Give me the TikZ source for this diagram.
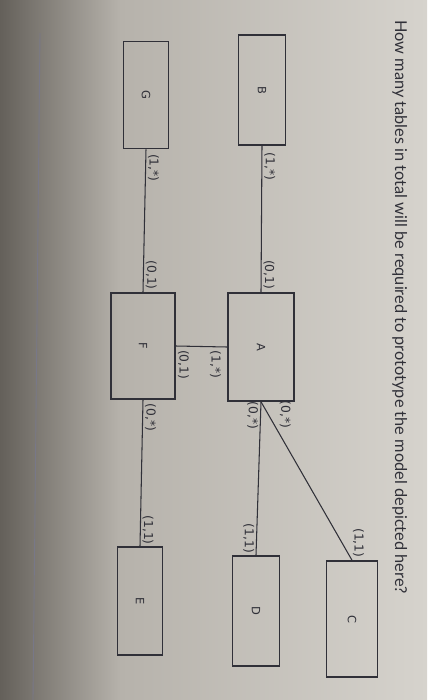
\documentclass[tikz,border=0pt]{standalone}
\usepackage{fontspec}
\setmainfont{Lato}
\newfontfamily\diagramfont{DejaVu Sans}
\usepackage{tikz}
\usetikzlibrary{positioning}

\definecolor{screenDark}{RGB}{100,96,90}
\definecolor{screenMid}{RGB}{182,178,171}
\definecolor{screenLight}{RGB}{214,211,205}
\definecolor{ink}{RGB}{48,48,56}
\definecolor{rule}{RGB}{120,120,136}

\begin{document}
\begin{tikzpicture}[
    x=0.02cm, y=0.02cm,
    entity/.style={rectangle, draw=ink, line width=0.9pt, minimum width=2.2cm, minimum height=0.94cm, font=\diagramfont\fontsize{6.5}{8}\selectfont, text=ink},
    bigentity/.style={entity, minimum width=2.16cm, minimum height=1.32cm},
    link/.style={draw=ink, line width=0.6pt},
    card/.style={font=\diagramfont\fontsize{7}{8}\selectfont, text=ink, inner sep=1pt}
]

% photo background
\fill[left color=screenDark, right color=screenMid] (0,-700) rectangle (120,0);
\fill[left color=screenMid, right color=screenLight] (120,-700) rectangle (427,0);
\useasboundingbox (0,-700) rectangle (427,0);

\begin{scope}[rotate=-90, transform shape]
% question
\node[anchor=base west, inner sep=0pt, font=\fontsize{9.3}{11}\selectfont, text=ink] (question) at (20,395) {How many tables in total will be required to prototype the model depicted here?};
\draw[rule, line width=0.5pt] (33,40) -- (700,33);

% entities
\node[entity] (B) at (90,262) {B};
\node[entity, minimum width=2.14cm, minimum height=0.9cm] (G) at (95,146) {G};
\node[bigentity] (A) at (347,261) {A};
\node[bigentity, minimum width=2.12cm, minimum height=1.28cm] (F) at (346,143) {F};
\node[entity, minimum width=2.32cm, minimum height=1.02cm] (C) at (619,352) {C};
\node[entity] (D) at (611,256) {D};
\node[entity, minimum width=2.16cm, minimum height=0.9cm] (E) at (601,140) {E};

% relationships with cardinalities
\draw[link] (B.east) -- node[card, pos=0.14, above] {(1,*)} node[card, pos=0.88, above] {(0,1)} (A.west);
\draw[link] (G.east) -- node[card, pos=0.13, above] {(1,*)} node[card, pos=0.88, above] {(0,1)} (F.west);
\draw[link] (F.north) -- node[card, pos=0.15, right=1pt] {(0,1)} node[card, pos=0.77, right=1pt] {(1,*)} (A.south);
\draw[link] (A.east) -- node[card, pos=0.09, below] {(0,*)} node[card, pos=0.89, below] {(1,1)} (D.west);
\draw[link] (A.east) -- node[card, pos=0.18, above left=0pt] {(0,*)} node[card, pos=0.89, above=5pt] {(1,1)} (C.west);
\draw[link] (F.east) -- node[card, pos=0.12, above] {(0,*)} node[card, pos=0.89, above] {(1,1)} (E.west);
\end{scope}

\end{tikzpicture}
\end{document}
